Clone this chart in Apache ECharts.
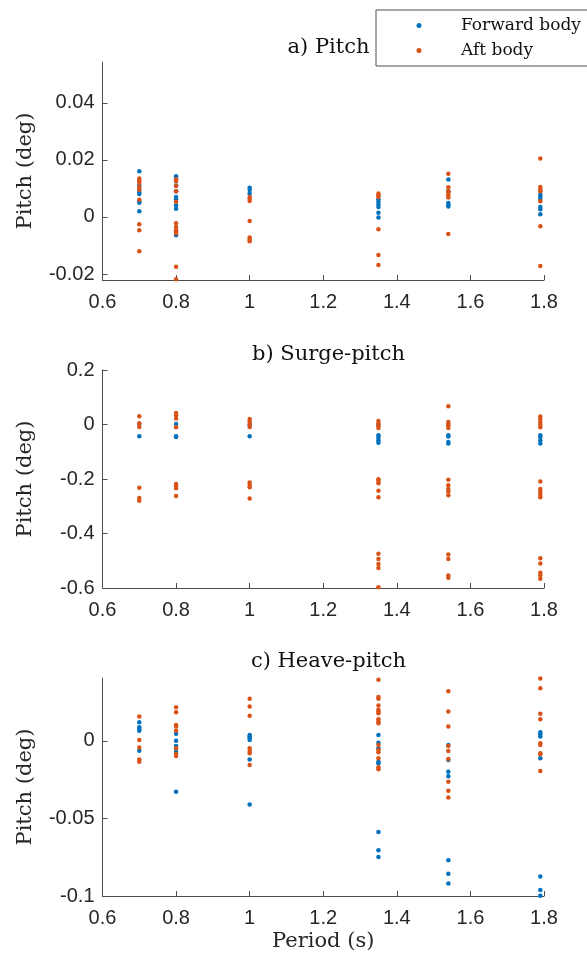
<!DOCTYPE html>
<html>
<head>
<meta charset="utf-8">
<script src="https://cdn.jsdelivr.net/npm/echarts@6/dist/echarts.min.js"></script>
<style>
html,body{margin:0;padding:0;background:#fff;}
#chart{width:587px;height:956px;}
</style>
</head>
<body>
<div id="chart"></div>
<script>
// Periods (s) at which measurements were taken
const periods = [0.7, 0.8, 1.0, 1.35, 1.54, 1.79];
const xTicks = [0.6, 0.8, 1.0, 1.2, 1.4, 1.6, 1.8];

// a) Pitch
const pitchFwd = [
  [0.016, 0.011, 0.0095, 0.0085, 0.008, 0.0055, 0.005, 0.002],
  [0.0143, 0.0135, 0.011, 0.009, 0.007, 0.0062, 0.0041, 0.0029, -0.0064],
  [0.0102, 0.0094, 0.0082],
  [0.0062, 0.0053, 0.0044, 0.0035, 0.0015, -0.0002],
  [0.0131, 0.009, 0.0049, 0.0043, 0.0037],
  [0.0079, 0.0071, 0.0063, 0.0035, 0.0027, 0.0009]
];
const pitchAft = [
  [0.0135, 0.0128, 0.012, 0.0105, 0.0095, 0.006, -0.0026, -0.0047, -0.012],
  [0.0132, 0.0125, 0.0108, 0.009, 0.0053, -0.0022, -0.0035, -0.0047, -0.005, -0.0058, -0.0175, -0.0218],
  [0.007, 0.0064, 0.0056, -0.0014, -0.0072, -0.0079, -0.0085],
  [0.0082, 0.0076, 0.007, -0.0043, -0.0133, -0.0168],
  [0.0151, 0.0104, 0.009, 0.0085, 0.0076, 0.0068, -0.006],
  [0.0205, 0.0105, 0.0097, 0.009, 0.0055, -0.0033, -0.0172]
];
const pitchTicks = [-0.02, 0, 0.02, 0.04];

// b) Surge-pitch
const surgeFwd = [
  [0.002, -0.043],
  [0.002, -0.043, -0.046],
  [-0.002, -0.043],
  [-0.002, -0.039, -0.048, -0.058, -0.067],
  [-0.039, -0.044, -0.064, -0.07],
  [-0.039, -0.046, -0.058, -0.07]
];
const surgeAft = [
  [0.030, 0.005, -0.009, -0.232, -0.27, -0.28],
  [0.042, 0.034, 0.022, -0.01, -0.218, -0.224, -0.234, -0.262],
  [0.02, 0.011, 0.002, -0.009, -0.213, -0.222, -0.23, -0.272],
  [0.013, 0.004, -0.005, -0.013, -0.201, -0.207, -0.216, -0.243, -0.267, -0.474, -0.494, -0.512, -0.527, -0.597],
  [0.067, 0.009, 0.002, -0.004, -0.013, -0.203, -0.223, -0.237, -0.246, -0.26, -0.477, -0.494, -0.554, -0.562],
  [0.029, 0.02, 0.009, -0.001, -0.01, -0.209, -0.237, -0.248, -0.258, -0.267, -0.491, -0.51, -0.544, -0.554, -0.566]
];
const surgeTicks = [-0.6, -0.4, -0.2, 0, 0.2];

// c) Heave-pitch
const heaveFwd = [
  [0.0121, 0.0089, 0.0077, 0.0066, -0.0063],
  [0.0046, 0.0002, -0.0032, -0.0069, -0.0328],
  [0.0039, 0.0028, 0.0017, 0.0006, -0.0119, -0.041],
  [0.0039, -0.0011, -0.0047, -0.0134, -0.0144, -0.0587, -0.0705, -0.0748],
  [-0.0026, -0.0123, -0.0199, -0.0227, -0.077, -0.0856, -0.092],
  [0.0056, 0.0043, 0.0028, -0.0112, -0.0874, -0.0961, -0.0998]
];
const heaveAft = [
  [0.0157, 0.0006, -0.0043, -0.0119, -0.0134],
  [0.0218, 0.0185, 0.0103, 0.0093, 0.0065, -0.0047, -0.0084, -0.0097],
  [0.0272, 0.0222, 0.0162, -0.0047, -0.0065, -0.008, -0.0155],
  [0.0395, 0.0283, 0.0272, 0.0229, 0.0201, 0.019, 0.0179, 0.014, 0.0125, 0.0114, -0.0026, -0.0058, -0.0073, -0.0112, -0.017, -0.0183],
  [0.0321, 0.019, 0.0093, -0.0032, -0.0065, -0.0116, -0.0263, -0.0321, -0.0364],
  [0.0402, 0.034, 0.0175, 0.014, -0.0015, -0.0026, -0.008, -0.0086, -0.0194]
];
const heaveTicks = [-0.1, -0.05, 0];

const titles = ['a) Pitch', 'b) Surge-pitch', 'c) Heave-pitch'];
const yRanges = [[-0.0221, 0.0543], [-0.6, 0.2], [-0.1, 0.0406]];

function toPairs(groups) {
  const out = [];
  groups.forEach((vals, i) => vals.forEach(v => out.push([periods[i], v])));
  return out;
}

const panels = [
  {fwd: pitchFwd, aft: pitchAft, ticks: pitchTicks},
  {fwd: surgeFwd, aft: surgeAft, ticks: surgeTicks},
  {fwd: heaveFwd, aft: heaveAft, ticks: heaveTicks}
];

const BLUE = '#0072BD', ORANGE = '#D95319';
const AX = '#4d4d4d', TXT = '#262626';
const SERIF = 'DejaVu Serif';
const SANS = 'Liberation Sans, Arial, sans-serif';
const tops = [62, 370, 678];
const gridH = 218;

const grids = [], xAxes = [], yAxes = [], series = [], titleArr = [];
const titleTops = [31, 338, 645];
panels.forEach((p, k) => {
  grids.push({left: 102.5, width: 441.5, top: tops[k], height: gridH});
  titleArr.push({
    text: titles[k], left: 323.5, top: titleTops[k], textAlign: 'center',
    textStyle: {fontFamily: SERIF, fontSize: 21, fontWeight: 'normal', color: '#111', lineHeight: 24}
  });
  xAxes.push({
    type: 'value', gridIndex: k, min: 0.6, max: 1.8, interval: 0.2,
    name: k === 2 ? 'Period (s)' : '', nameLocation: 'middle', nameGap: 35,
    nameTextStyle: {fontFamily: SERIF, fontSize: 21, color: TXT},
    axisLine: {show: true, onZero: false, lineStyle: {color: AX, width: 1}},
    axisTick: {show: true, inside: true, length: 5, lineStyle: {color: AX}},
    axisLabel: {show: true, margin: 12, fontFamily: SANS, fontSize: 20, color: TXT,
      formatter: v => String(+v.toFixed(2))},
    splitLine: {show: false}
  });
  yAxes.push({
    type: 'value', gridIndex: k, min: yRanges[k][0], max: yRanges[k][1],
    name: 'Pitch (deg)', nameLocation: 'middle', nameGap: 66,
    nameTextStyle: {fontFamily: SERIF, fontSize: 21, color: TXT},
    axisLine: {show: true, onZero: false, lineStyle: {color: AX, width: 1}},
    axisTick: {show: true, inside: true, length: 5, lineStyle: {color: AX}, customValues: p.ticks},
    axisLabel: {show: true, margin: 8, fontFamily: SANS, fontSize: 20, color: TXT,
      customValues: p.ticks, formatter: v => String(+v.toFixed(3))},
    splitLine: {show: false}
  });
  series.push({
    name: 'Forward body', type: 'scatter', xAxisIndex: k, yAxisIndex: k,
    symbol: 'circle', symbolSize: 4.5, itemStyle: {color: BLUE, opacity: 1},
    data: toPairs(p.fwd), clip: false, z: 2
  });
  series.push({
    name: 'Aft body', type: 'scatter', xAxisIndex: k, yAxisIndex: k,
    symbol: 'circle', symbolSize: 4.5, itemStyle: {color: ORANGE, opacity: 1},
    data: toPairs(p.aft), clip: false, z: 2
  });
});

const chart = echarts.init(document.getElementById('chart'), null, {renderer: 'canvas'});
chart.setOption({
  animation: false,
  backgroundColor: '#fff',
  title: titleArr,
  legend: {
    data: ['Forward body', 'Aft body'],
    orient: 'vertical', left: 376, top: 10,
    padding: [3, 20, 3, 40.5],
    itemGap: 0, itemWidth: 5, itemHeight: 5, icon: 'circle',
    borderColor: AX, borderWidth: 1, backgroundColor: '#fff',
    selectedMode: false,
    textStyle: {fontFamily: SERIF, fontSize: 17, color: '#111', lineHeight: 25, padding: [0, 0, 0, 34.5]}
  },
  grid: grids,
  xAxis: xAxes,
  yAxis: yAxes,
  series: series
});
</script>
</body>
</html>
